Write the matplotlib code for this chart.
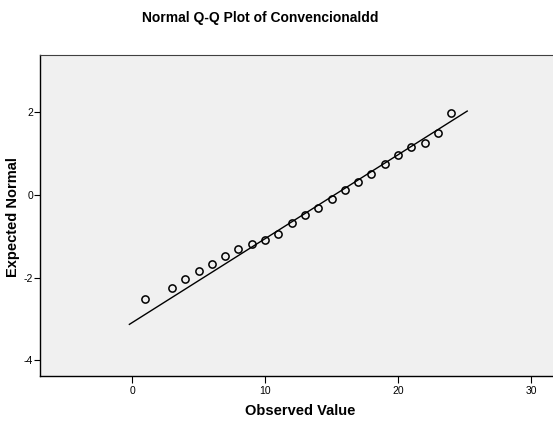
import matplotlib
matplotlib.use("Agg")
import matplotlib.pyplot as plt
import numpy as np

plt.rcParams['font.family'] = ['Liberation Sans', 'DejaVu Sans']
plt.rcParams['axes.unicode_minus'] = False

# Observed values and their expected normal scores
observed = [1, 3, 4, 5, 6, 7, 8, 9, 10, 11, 12, 13, 14, 15, 16, 17, 18, 19, 20, 21, 22, 23, 24]
expected = [-2.52, -2.25, -2.03, -1.84, -1.66, -1.48, -1.31, -1.19, -1.09, -0.94,
            -0.68, -0.48, -0.31, -0.10, 0.12, 0.31, 0.52, 0.74, 0.98, 1.16, 1.27, 1.49, 1.99]

# Reference normal line parameters
mean_value = 15.2
sd_value = 4.92
line_range = [-0.2, 25.2]

xticks = [0, 10, 20, 30]
yticks = [-4, -2, 0, 2]

fig = plt.figure(figsize=(5.53, 4.23), dpi=100)
ax = fig.add_axes([40/553, 1 - 376/423, 1 - 40/553, (376 - 55)/423])
ax.set_facecolor('#f0f0f0')

lx = np.array(line_range)
ax.plot(lx, (lx - mean_value) / sd_value, color='black', lw=1.0)
ax.plot(observed, expected, linestyle='none', marker='o', markersize=5.2,
        markerfacecolor='none', markeredgecolor='black', markeredgewidth=1.1)

ax.set_xlim(-6.92, 31.65)
ax.set_ylim(-4.38, 3.39)
ax.set_xticks(xticks)
ax.set_yticks(yticks)
ax.tick_params(axis='both', direction='out', labelsize=7.5, color='black', width=0.8)
ax.tick_params(axis='x', length=5, pad=2)
ax.tick_params(axis='y', length=4, pad=1)

ax.spines['right'].set_visible(False)
ax.spines['top'].set_color('#404040')
for s in ['left', 'bottom']:
    ax.spines[s].set_color('black')
    ax.spines[s].set_linewidth(1.0)

fig.text(260/553, 1 - 18/423, 'Normal Q-Q Plot of Convencionaldd', ha='center', va='center',
         fontsize=10, fontweight='bold')
fig.text(300/553, 1 - 411/423, 'Observed Value', ha='center', va='center',
         fontsize=10.5, fontweight='bold')
fig.text(13/553, 1 - 217/423, 'Expected Normal', ha='center', va='center', rotation=90,
         fontsize=10.5, fontweight='bold')

fig.savefig('out.png', dpi=100)
